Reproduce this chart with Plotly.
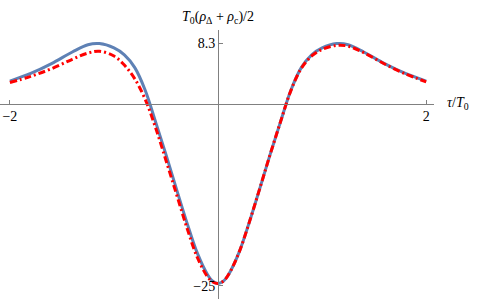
import plotly.graph_objects as go

tau = [-2, -1.8, -1.6, -1.4, -1.25, -1.14, -1.0, -0.9, -0.8, -0.7, -0.6, -0.5, -0.4, -0.3, -0.2, -0.1, -0.05, 0,
       0.05, 0.1, 0.2, 0.3, 0.4, 0.5, 0.6, 0.7, 0.8, 0.9, 1.0, 1.14, 1.25, 1.4, 1.6, 1.8, 2]
blue = [3.1, 4.15, 5.5, 7.1, 8.1, 8.25, 7.65, 6.7, 4.95, 1.85, -2.5, -7.0, -11.7, -16.3, -20.5, -23.5, -24.4, -24.7,
        -24.4, -23.5, -20.5, -16.3, -11.7, -7.0, -2.5, 1.85, 4.95, 6.7, 7.65, 8.25, 8.1, 7.1, 5.5, 4.15, 3.1]
red = [2.9, 3.75, 4.8, 6.1, 6.95, 7.2, 6.55, 5.3, 3.4, 0.6, -3.3, -7.8, -12.4, -17.0, -21.1, -23.8, -24.5, -24.7,
       -24.4, -23.5, -20.5, -16.3, -11.7, -7.0, -2.5, 1.8, 4.85, 6.55, 7.45, 8.0, 7.9, 7.0, 5.45, 4.1, 3.0]

xticks = [-2, 2]
xticktext = ["\u22122", "2"]
yticks = [-25, 8.3]
yticktext = ["\u221225", "8.3"]

xr = [-2.095, 2.075]
yr = [-26.83, 10.12]

fig = go.Figure()
fig.add_trace(go.Scatter(x=tau, y=blue, mode="lines", line=dict(color="#5E81B5", width=3, shape="spline"),
                         showlegend=False, hoverinfo="skip"))
fig.add_trace(go.Scatter(x=tau, y=red, mode="lines",
                         line=dict(color="#FF0000", width=3, shape="spline", dash="7px,3px,2px,3px"),
                         showlegend=False, hoverinfo="skip"))

font = dict(family="Liberation Serif", size=14, color="black")
axcol = "#808080"
fig.update_layout(
    width=480, height=299,
    margin=dict(l=0, r=45.5, t=30, b=0),
    paper_bgcolor="white", plot_bgcolor="white",
    font=font,
    xaxis=dict(range=xr, anchor="free", position=(0 - yr[0]) / (yr[1] - yr[0]), automargin=False,
               showgrid=False, zeroline=False, showline=True, linecolor=axcol, linewidth=1,
               ticks="inside", ticklen=4, tickcolor=axcol, tickvals=xticks, ticktext=xticktext,
               tickfont=font),
    yaxis=dict(range=yr, anchor="free", position=(0 - xr[0]) / (xr[1] - xr[0]), automargin=False,
               showgrid=False, zeroline=False, showline=True, linecolor=axcol, linewidth=1,
               ticks="inside", ticklen=4, tickcolor=axcol, tickvals=yticks, ticktext=yticktext,
               tickfont=font),
    annotations=[
        dict(text="<i>T</i><sub>0</sub>(<i>ρ</i><sub>Δ</sub> + <i>ρ</i><sub>c</sub>)/2",
             xref="x", yref="paper", x=0, y=1, yanchor="bottom", yshift=2, showarrow=False,
             font=font),
        dict(text="<i>τ</i>/<i>T</i><sub>0</sub>", xref="paper", yref="y", x=1.026, y=0,
             xanchor="left", yanchor="middle", showarrow=False, font=font),
    ],
)

fig.write_html("out.html", config={"displayModeBar": False},
               post_script="document.body.style.margin='0';document.body.style.overflow='hidden';")
